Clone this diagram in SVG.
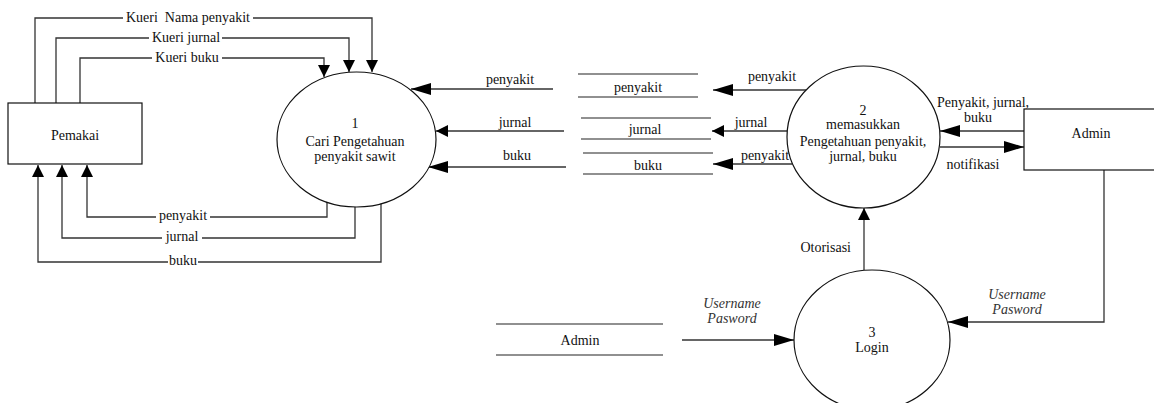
<svg xmlns="http://www.w3.org/2000/svg" width="1154" height="403" viewBox="0 0 1154 403" font-family="'Liberation Serif', 'Times New Roman', 'DejaVu Serif', serif">
<defs>
<style>
text{font-family:'Liberation Serif','Times New Roman','DejaVu Serif',serif;font-size:14px;fill:#111;text-anchor:middle;white-space:pre}
.it{font-style:italic;fill:#333}
.shape{fill:#fff;stroke:#111;stroke-width:1.2}
.store{stroke:#222;stroke-width:1.2;fill:none}
.c{fill:none;stroke:#333;stroke-width:1.3}
.bg{fill:#fff;stroke:none}
.s{marker-end:url(#ms)}
.l{marker-end:url(#ml)}
</style>
<marker id="ms" markerUnits="userSpaceOnUse" markerWidth="12" markerHeight="12" refX="12" refY="6" orient="auto"><path d="M0,0 L12,6 L0,12 z" fill="#000"/></marker>
<marker id="ml" markerUnits="userSpaceOnUse" markerWidth="20" markerHeight="12" refX="20" refY="6" orient="auto"><path d="M0,0 L20,6 L0,12 z" fill="#000"/></marker>
</defs>
<rect width="1154" height="403" fill="#fff"/>

<g id="connectors">
<path class="c s" d="M35,103 V18 H372 V72"/>
<path class="c s" d="M56,103 V38 H349 V72"/>
<path class="c s" d="M80,103 V58 H324 V77"/>
<path class="c s" d="M327,200 V217 H87 V165"/>
<path class="c s" d="M355,207 V238 H62 V165"/>
<path class="c s" d="M381,203 V262 H38 V165"/>
<path class="c l" d="M553,89 H411"/>
<path class="c s" d="M564,131 H436"/>
<path class="c l" d="M566,167 H428"/>
<path class="c l" d="M806,90 H713"/>
<path class="c s" d="M787,131 H712"/>
<path class="c l" d="M792,164 H713"/>
<path class="c l" d="M1024,131 H940"/>
<path class="c l" d="M940,147 H1024"/>
<path class="c s" d="M864,270 V208"/>
<path class="c l" d="M682,340 H794"/>
<path class="c l" d="M1104,170 V322 H948"/>
</g>

<g id="labels">
<rect class="bg" x="123" y="10" width="130" height="16"/>
<text x="188" y="22">Kueri  Nama penyakit</text>
<rect class="bg" x="149" y="30" width="73" height="16"/>
<text x="186" y="42">Kueri jurnal</text>
<rect class="bg" x="152" y="50" width="70" height="16"/>
<text x="187" y="62">Kueri buku</text>
<rect class="bg" x="156" y="209" width="54" height="16"/>
<text x="183" y="220">penyakit</text>
<rect class="bg" x="162" y="230" width="40" height="16"/>
<text x="182" y="241">jurnal</text>
<rect class="bg" x="168" y="254" width="30" height="16"/>
<text x="183" y="265">buku</text>
<text x="510" y="84">penyakit</text>
<text x="515" y="127">jurnal</text>
<text x="517" y="160">buku</text>
<text x="772" y="81">penyakit</text>
<text x="751" y="127">jurnal</text>
<text x="765" y="160">penyakit</text>
<text x="983" y="107">Penyakit, jurnal,</text>
<text x="978" y="122">buku</text>
<text x="973" y="169">notifikasi</text>
<text x="851" y="252" style="text-anchor:end">Otorisasi</text>
<text class="it" x="732" y="308">Username</text>
<text class="it" x="732" y="323">Pasword</text>
<text class="it" x="1017" y="299">Username</text>
<text class="it" x="1017" y="314">Pasword</text>
</g>

<g id="pemakai">
<rect class="shape" x="8" y="103" width="134" height="61"/>
<text x="75" y="140">Pemakai</text>
</g>

<g id="proses1">
<ellipse class="shape" cx="356.5" cy="139.5" rx="79.5" ry="67.5"/>
<text x="355" y="128">1</text>
<text x="355" y="146">Cari Pengetahuan</text>
<text x="355" y="161">penyakit sawit</text>
</g>

<g id="store-penyakit">
<line class="store" x1="578" y1="74" x2="698" y2="74"/>
<line class="store" x1="578" y1="97" x2="698" y2="97"/>
<text x="638" y="92">penyakit</text>
</g>
<g id="store-jurnal">
<line class="store" x1="581" y1="118" x2="711" y2="118"/>
<line class="store" x1="581" y1="139" x2="711" y2="139"/>
<text x="645" y="134">jurnal</text>
</g>
<g id="store-buku">
<line class="store" x1="583" y1="153" x2="713" y2="153"/>
<line class="store" x1="583" y1="174" x2="713" y2="174"/>
<text x="648" y="170">buku</text>
</g>

<g id="proses2">
<ellipse class="shape" cx="863.5" cy="137" rx="76.5" ry="71"/>
<text x="863" y="115">2</text>
<text x="863" y="129">memasukkan</text>
<text x="863" y="146">Pengetahuan penyakit,</text>
<text x="863" y="161">jurnal, buku</text>
</g>

<g id="admin">
<rect class="shape" x="1024" y="109" width="140" height="61"/>
<text x="1091" y="138">Admin</text>
</g>

<g id="store-admin">
<line class="store" x1="496" y1="324" x2="663" y2="324"/>
<line class="store" x1="496" y1="355" x2="663" y2="355"/>
<text x="580" y="345">Admin</text>
</g>

<g id="proses3">
<ellipse class="shape" cx="872" cy="340" rx="78" ry="70"/>
<text x="872" y="337">3</text>
<text x="872" y="352">Login</text>
</g>
</svg>
